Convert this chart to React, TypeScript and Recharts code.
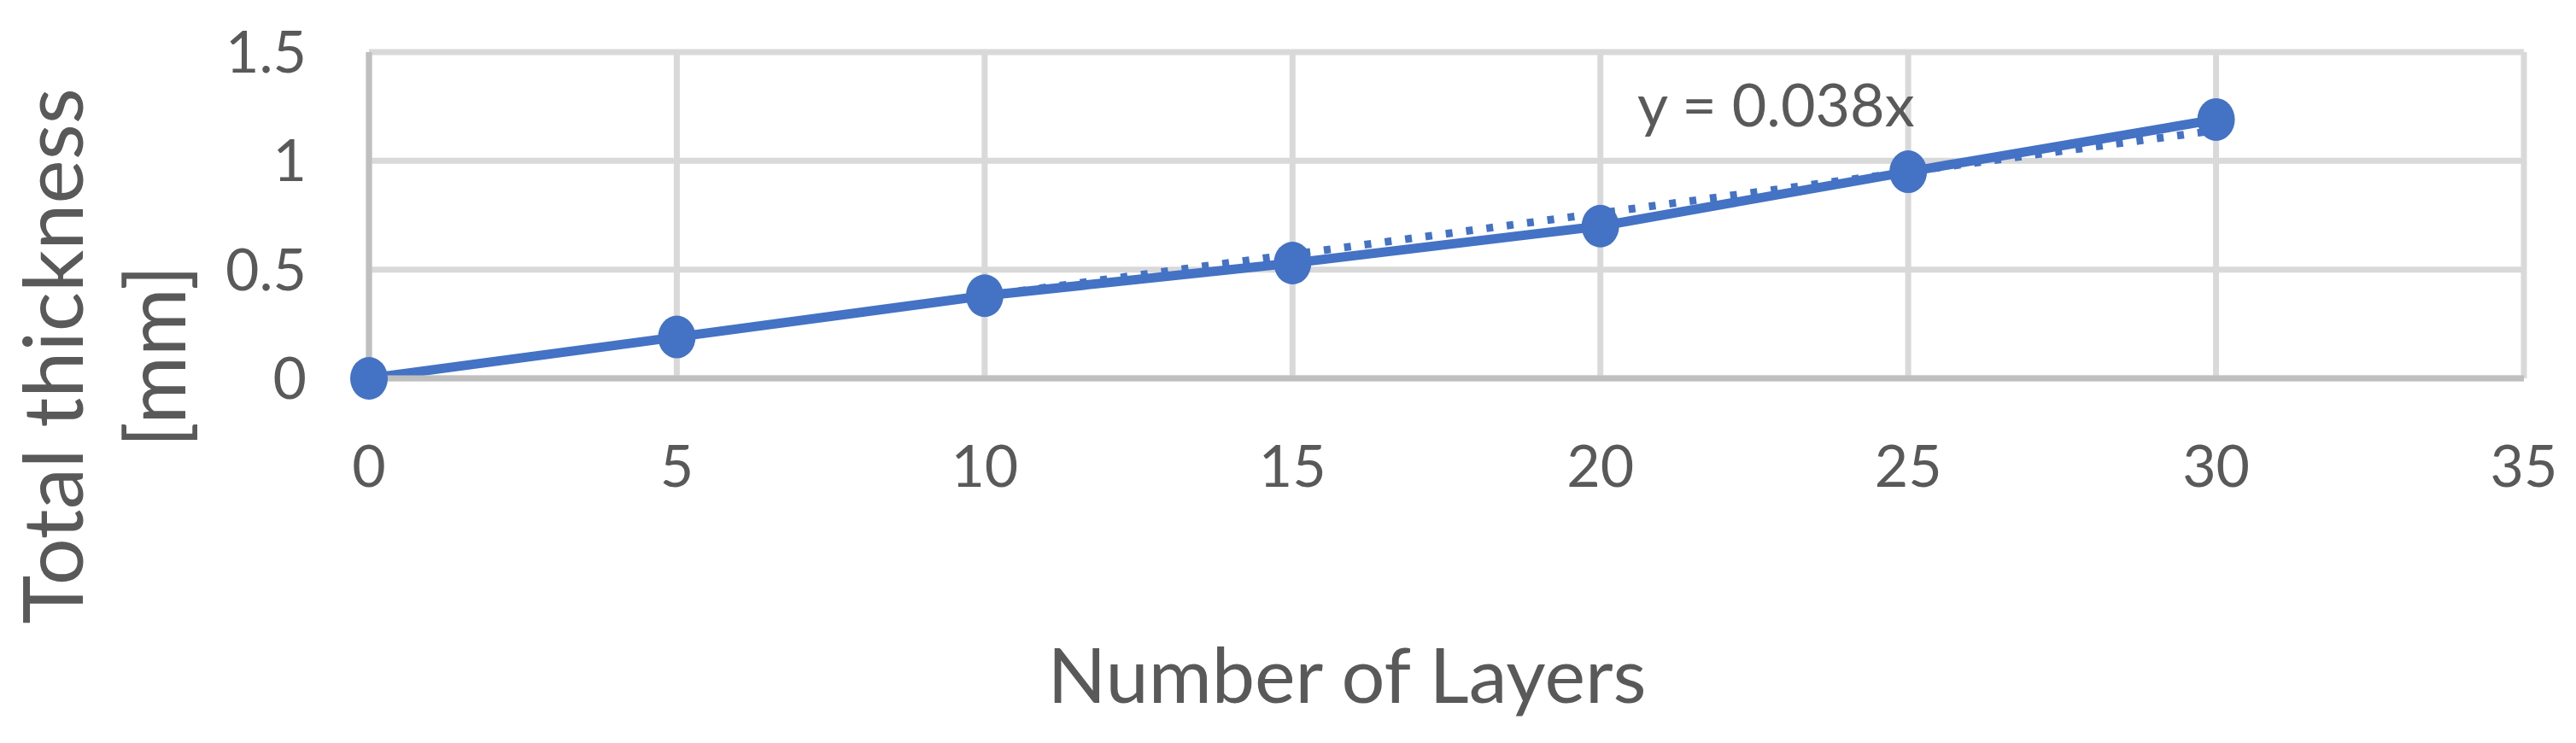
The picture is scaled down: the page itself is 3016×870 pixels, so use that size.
import { LineChart, Line, XAxis, YAxis, CartesianGrid, Label, ReferenceDot } from "recharts";

const layers = [0, 5, 10, 15, 20, 25, 30];
const thickness = [0, 0.19, 0.38, 0.53, 0.7, 0.95, 1.19];
const trendSlope = 0.038;
const xTicks = [0, 5, 10, 15, 20, 25, 30, 35];
const yTicks = [0, 0.5, 1, 1.5];

const data = layers.map((x, i) => ({ x, thickness: thickness[i], trend: trendSlope * x }));

const BLUE = "#4472C4";
const TEXT = "#595959";
const FONT = "Lato, 'Open Sans', sans-serif";

function Marker(props: any) {
  const { cx, cy, index } = props;
  if (cx == null || cy == null) return null;
  return <ellipse key={`m-${index}`} cx={cx} cy={cy} rx={22} ry={25} fill={BLUE} />;
}

function XTitle({ viewBox }: any) {
  return (
    <text x={viewBox.x + 1145} y={viewBox.y + 380} textAnchor="middle" fill={TEXT} fontFamily={FONT} fontSize={90}>
      Number of Layers
    </text>
  );
}

function YTitle({ viewBox }: any) {
  const cy = 417;
  return (
    <g>
      <text x={viewBox.x + 97} y={cy} transform={`rotate(-90, ${viewBox.x + 97}, ${cy})`} textAnchor="middle" fill={TEXT} fontFamily={FONT} fontSize={97}>
        Total thickness
      </text>
      <text x={viewBox.x + 217} y={cy} transform={`rotate(-90, ${viewBox.x + 217}, ${cy})`} textAnchor="middle" fill={TEXT} fontFamily={FONT} fontSize={97}>
        [mm]
      </text>
    </g>
  );
}

function EqLabel(props: any) {
  return (
    <text x={props.cx} y={props.cy} textAnchor="start" fill={TEXT} fontFamily={FONT} fontSize={70}>
      y = 0.038x
    </text>
  );
}

export default function App() {
  return (
    <div style={{ position: "absolute", left: 0, top: 0, background: "#fff" }}>
      <LineChart width={3016} height={870} data={data} margin={{ top: 61, right: 61, left: 0, bottom: 0 }}>
        <CartesianGrid stroke="#d9d9d9" strokeWidth={7} />
        <XAxis
          dataKey="x"
          type="number"
          domain={[0, 35]}
          ticks={xTicks}
          height={427}
          tickSize={0}
          tickMargin={79}
          tickLine={false}
          axisLine={{ stroke: "#bfbfbf", strokeWidth: 7 }}
          tick={{ fill: TEXT, fontSize: 68, fontFamily: FONT }}
        >
          <Label content={<XTitle />} />
        </XAxis>
        <YAxis
          type="number"
          domain={[0, 1.5]}
          ticks={yTicks}
          width={432}
          tickSize={0}
          tickMargin={73}
          tickLine={false}
          axisLine={{ stroke: "#bfbfbf", strokeWidth: 7 }}
          tick={{ fill: TEXT, fontSize: 68, fontFamily: FONT }}
        >
          <Label content={<YTitle />} />
        </YAxis>
        <Line type="linear" dataKey="thickness" stroke={BLUE} strokeWidth={11} dot={<Marker />} isAnimationActive={false} />
        <Line type="linear" dataKey="trend" stroke={BLUE} strokeWidth={9} strokeDasharray="8 16" dot={false} isAnimationActive={false} />
        <ReferenceDot x={20.6} y={1.16} r={0} shape={<EqLabel />} />
      </LineChart>
    </div>
  );
}
